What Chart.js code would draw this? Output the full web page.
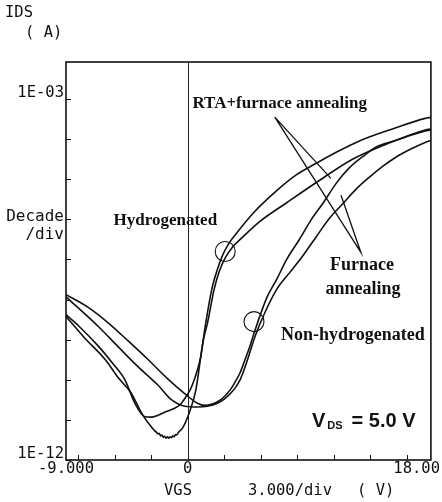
<!DOCTYPE html>
<html><head><meta charset="utf-8">
<script src="https://cdn.jsdelivr.net/npm/chart.js@4/dist/chart.umd.min.js"></script>
<style>html,body{margin:0;padding:0;background:#fff}canvas{display:block}</style>
</head><body>
<canvas id="c" width="442" height="502"></canvas>
<script>
// ---- data (VGS in V, IDS in A) ----
const vgsH1 = [-9, -8.06, -6.59, -5.64, -4.64, -3.88, -3.17, -2.71, -2.2, -1.61, -0.97, -0.51, -0.12, 0.22, 0.49, 0.73, 0.97, 1.17, 1.47, 1.96, 2.34, 2.78, 3.3, 4.03, 5.35, 7.33, 9.52, 12.23, 14.65, 17.58, 18];
const idsH1 = [4.2e-9, 2.2e-9, 6.8e-10, 2.8e-10, 1.0e-10, 2.5e-11, 1.2e-11, 1.17e-11, 1.3e-11, 1.6e-11, 1.95e-11, 2.5e-11, 3.8e-11, 5.9e-11, 1.0e-10, 1.8e-10, 3.8e-10, 1.0e-9, 2.6e-9, 1.8e-8, 5.0e-8, 1.1e-7, 2.0e-7, 3.5e-7, 8.9e-7, 2.6e-6, 8.3e-6, 3.2e-5, 7.4e-5, 1.7e-4, 1.8e-4];

const vgsH2 = [-9, -7.69, -6.1, -5.13, -4.18, -3.42, -2.71, -2.45, -2.3, -2.2, -2.1, -2.0, -1.9, -1.8, -1.7, -1.6, -1.5, -1.4, -1.3, -1.2, -1.1, -1.0, -0.9, -0.8, -0.7, -0.37, 0.12, 0.61, 0.97, 1.34, 1.83, 2.2, 2.64, 3.08, 3.66, 4.91, 6.59, 8.06, 9.52, 10.99, 12.67, 15.16, 17.58, 18];
const idsH2 = [3.8e-9, 1.17e-9, 3.2e-10, 1.12e-10, 4.7e-11, 1.5e-11, 6.8e-12, 5.4e-12, 4.9e-12, 4.5e-12, 4.6e-12, 4.0e-12, 4.2e-12, 3.7e-12, 3.9e-12, 3.5e-12, 3.8e-12, 3.5e-12, 3.8e-12, 3.6e-12, 4.0e-12, 3.8e-12, 4.3e-12, 4.2e-12, 4.8e-12, 6.3e-12, 1.5e-11, 5.6e-11, 3.7e-10, 2.6e-9, 2.1e-8, 5.6e-8, 1.4e-7, 2.6e-7, 4.7e-7, 1.5e-6, 5.2e-6, 1.3e-5, 2.5e-5, 4.7e-5, 8.9e-5, 1.8e-4, 3.3e-4, 3.5e-4];

const vgsN1 = [-9, -7.33, -5.86, -4.4, -2.93, -1.47, -0.22, 0.73, 1.25, 1.83, 2.34, 2.78, 3.15, 3.52, 3.88, 4.25, 4.62, 5.13, 5.86, 6.59, 7.33, 8.28, 9.16, 10.04, 10.99, 11.94, 12.97, 13.92, 15.38, 17.58, 18];
const idsN1 = [1.33e-8, 6.3e-9, 2.6e-9, 9.3e-10, 3.2e-10, 1.05e-10, 4.5e-11, 2.6e-11, 2.3e-11, 2.5e-11, 3.0e-11, 4.0e-11, 5.6e-11, 8.9e-11, 1.5e-10, 3.2e-10, 7.1e-10, 2.4e-9, 1.12e-8, 3.2e-8, 1.0e-7, 3.2e-7, 1.0e-6, 2.6e-6, 7.9e-6, 1.9e-5, 3.7e-5, 6.3e-5, 9.3e-5, 1.6e-4, 1.7e-4];

const vgsN2 = [-9, -6.59, -5.13, -3.66, -2.2, -1.25, -0.22, 0.73, 1.47, 2.2, 2.71, 3.15, 3.52, 3.88, 4.25, 4.62, 4.98, 5.71, 6.59, 7.55, 8.57, 9.52, 10.48, 11.5, 12.45, 13.41, 14.43, 15.38, 16.48, 17.58, 18];
const idsN2 = [1.17e-8, 2.1e-9, 6.6e-10, 2.1e-10, 7.4e-11, 3.3e-11, 2.2e-11, 2.1e-11, 2.2e-11, 2.6e-11, 3.3e-11, 4.5e-11, 6.3e-11, 1.0e-10, 2.1e-10, 5.0e-10, 1.19e-9, 4.7e-9, 1.8e-8, 4.7e-8, 1.3e-7, 3.7e-7, 1.05e-6, 2.5e-6, 5.6e-6, 1.1e-5, 2.1e-5, 3.5e-5, 5.6e-5, 8.3e-5, 9.3e-5];

// annotation marks (data coordinates)
const circleVgs = [2.78, 4.91];
const circleIds = [1.58e-7, 2.82e-9];
const pointerVgs = [10.6, 6.45, 12.82, 11.35];
const pointerIds = [1.05e-5, 3.55e-4, 1.5e-7, 3.98e-6];

// axis setup
const xMin = -9, xMax = 18;
const yMin = 1e-12, yMax = 8.4e-3;
const xTickValues = [-8.1, -5.4, -2.7, 2.7, 5.4, 8.1, 10.8, 13.5, 16.2];
const yTickValues = [1e-12, 1e-11, 1e-10, 1e-9, 1e-8, 1e-7, 1e-6, 1e-5, 1e-4, 1e-3];
const xTickLabelValues = [-9, 0, 18];
const xTickLabelTexts = ['-9.000', '0', '18.00'];
const yTickLabelValues = [1e-3, 1e-12];
const yTickLabelTexts = ['1E-03', '1E-12'];

// in-plot text labels (anchor in data coords)
const noteTexts = ['RTA+furnace annealing', 'Hydrogenated', 'Furnace', 'annealing', 'Non-hydrogenated'];
const noteVgs = [6.81, -1.65, 12.9, 12.97, 12.23];
const noteIds = [7.9e-4, 9.4e-7, 7.1e-8, 1.8e-8, 1.26e-9];
const noteSizes = [17, 17, 18, 18, 18];
const vdsVgs = 9.2, vdsIds = 6.7e-12;

const pts = (xs, ys) => xs.map((v, i) => ({x: v, y: ys[i]}));
const curve = (xs, ys) => ({data: pts(xs, ys), borderColor: '#111', borderWidth: 1.6, pointRadius: 0, fill: false, cubicInterpolationMode: 'monotone'});

const decor = {
  id: 'decor',
  beforeDatasetsDraw(chart) {
    const {ctx, chartArea: a, scales: {x}} = chart;
    ctx.save();
    ctx.strokeStyle = '#222'; ctx.lineWidth = 1;
    const x0 = Math.round(x.getPixelForValue(0)) + 0.5;
    ctx.beginPath(); ctx.moveTo(x0, a.top); ctx.lineTo(x0, a.bottom); ctx.stroke();
    ctx.restore();
  },
  afterDatasetsDraw(chart) {
    const {ctx, chartArea: a, scales: {x, y}} = chart;
    ctx.save();
    ctx.strokeStyle = '#111'; ctx.fillStyle = '#111';
    // frame
    ctx.lineWidth = 1.6;
    ctx.strokeRect(a.left, a.top, a.right - a.left, a.bottom - a.top);
    // ticks
    ctx.lineWidth = 1;
    ctx.beginPath();
    yTickValues.forEach(v => { const py = Math.round(y.getPixelForValue(v)) + 0.5; ctx.moveTo(a.left, py); ctx.lineTo(a.left + 5, py); });
    xTickValues.forEach(v => { const px = Math.round(x.getPixelForValue(v)) + 0.5; ctx.moveTo(px, a.bottom); ctx.lineTo(px, a.bottom - 5); });
    ctx.stroke();
    // axis texts (plotter style)
    ctx.font = '15.5px "DejaVu Sans Mono"';
    ctx.textBaseline = 'middle';
    ctx.textAlign = 'right';
    yTickLabelValues.forEach((v, i) => ctx.fillText(yTickLabelTexts[i], a.left - 2, y.getPixelForValue(v) - 6));
    ctx.textAlign = 'center';
    xTickLabelValues.forEach((v, i) => {
      let px = x.getPixelForValue(v);
      if (i === xTickLabelValues.length - 1) { ctx.textAlign = 'right'; px = chart.width - 2; }
      ctx.fillText(xTickLabelTexts[i], px, a.bottom + 9);
    });
    ctx.textAlign = 'left';
    ctx.fillText('IDS', 5, 13);
    ctx.fillText('( A)', 25, 33);
    ctx.textAlign = 'right';
    ctx.font = '16px "DejaVu Sans Mono"';
    ctx.fillText('Decade', a.left - 2, 217);
    ctx.fillText('/div', a.left - 2, 235);
    ctx.font = '15.5px "DejaVu Sans Mono"';
    ctx.textAlign = 'left';
    ctx.fillText('VGS', 164, 491);
    ctx.fillText('3.000/div', 248, 491);
    ctx.fillText('( V)', 357, 491);
    // in-plot notes
    ctx.textAlign = 'center';
    noteTexts.forEach((t, i) => {
      ctx.font = 'bold ' + noteSizes[i] + 'px "Liberation Serif"';
      ctx.fillText(t, x.getPixelForValue(noteVgs[i]), y.getPixelForValue(noteIds[i]));
    });
    // V_DS label
    const bx = x.getPixelForValue(vdsVgs), by = y.getPixelForValue(vdsIds);
    ctx.textAlign = 'left'; ctx.textBaseline = 'alphabetic';
    ctx.font = 'bold 20px "Liberation Sans"';
    ctx.fillText('V', bx, by);
    const w = ctx.measureText('V').width;
    ctx.font = 'bold 11px "Liberation Sans"';
    ctx.fillText('DS', bx + w + 2, by + 2);
    const w2 = ctx.measureText('DS').width;
    ctx.font = 'bold 20px "Liberation Sans"';
    ctx.fillText('= 5.0 V', bx + w + w2 + 11, by);
    ctx.restore();
  }
};

new Chart(document.getElementById('c'), {
  type: 'line',
  data: {
    datasets: [
      curve(vgsH1, idsH1),
      curve(vgsH2, idsH2),
      curve(vgsN1, idsN1),
      curve(vgsN2, idsN2),
      {data: pts(circleVgs, circleIds), showLine: false, pointRadius: 10, pointBorderWidth: 1.1, pointBorderColor: '#111', pointBackgroundColor: 'rgba(0,0,0,0)', borderColor: '#111'},
      {data: pts(pointerVgs, pointerIds), borderColor: '#111', borderWidth: 1.3, pointRadius: 0, tension: 0, fill: false}
    ]
  },
  options: {
    responsive: false, animation: false, devicePixelRatio: 1,
    layout: {padding: {left: 66, right: 7, top: 62, bottom: 42}},
    plugins: {legend: {display: false}, tooltip: {enabled: false}},
    scales: {
      x: {type: 'linear', min: xMin, max: xMax, display: false},
      y: {type: 'logarithmic', min: yMin, max: yMax, display: false}
    }
  },
  plugins: [decor]
});
</script>
</body></html>
